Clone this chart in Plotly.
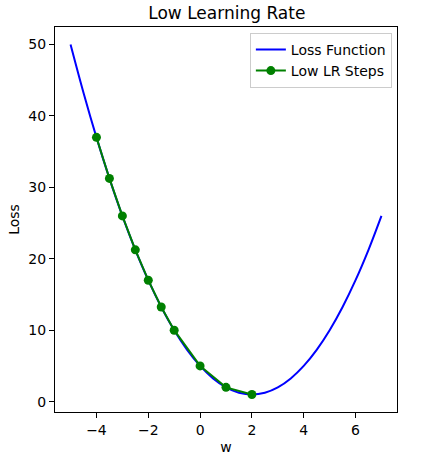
import plotly.graph_objects as go

# Loss function curve
w_curve = [-5, -4.5, -4, -3.5, -3, -2.5, -2, -1.5, -1, -0.5, 0, 0.5, 1, 1.5, 2,
           2.5, 3, 3.5, 4, 4.5, 5, 5.5, 6, 6.5, 7]
loss_curve = [50, 43.25, 37, 31.25, 26, 21.25, 17, 13.25, 10, 7.25, 5, 3.25, 2, 1.25, 1,
              1.25, 2, 3.25, 5, 7.25, 10, 13.25, 17, 21.25, 26]

# Low learning-rate steps
w_steps = [-4, -3.5, -3, -2.5, -2, -1.5, -1, 0, 1, 2]
loss_steps = [37, 31.25, 26, 21.25, 17, 13.25, 10, 5, 2, 1]

x_tickvals = [-4, -2, 0, 2, 4, 6]
x_ticktext = ["\u22124", "\u22122", "0", "2", "4", "6"]
y_tickvals = [0, 10, 20, 30, 40, 50]
y_ticktext = ["0", "10", "20", "30", "40", "50"]

FONT = "DejaVu Sans"

fig = go.Figure()
fig.add_trace(go.Scatter(x=w_curve, y=loss_curve, mode="lines", name="Loss Function",
                         line=dict(color="#0000ff", width=2, shape="spline")))
fig.add_trace(go.Scatter(x=w_steps, y=loss_steps, mode="lines+markers", name="Low LR Steps",
                         line=dict(color="#008000", width=2),
                         marker=dict(color="#008000", size=9)))

axis_common = dict(showgrid=False, zeroline=False, showline=True, linecolor="black",
                   linewidth=1, mirror=True, ticks="outside", ticklen=5, tickwidth=1,
                   tickcolor="black", tickfont=dict(family=FONT, size=14, color="black"))

fig.update_layout(
    width=424, height=471,
    margin=dict(l=55, r=27, t=27, b=59),
    paper_bgcolor="white", plot_bgcolor="white",
    font=dict(family=FONT, size=14, color="black"),
    title=dict(text="Low Learning Rate", x=0.535, xanchor="center", y=0.972, yanchor="middle",
               font=dict(family=FONT, size=17, color="black")),
    xaxis=dict(range=[-5.6, 7.6], tickvals=x_tickvals, ticktext=x_ticktext,
               title=dict(text="w", font=dict(family=FONT, size=14), standoff=5), **axis_common),
    yaxis=dict(range=[-1.45, 52.45], tickvals=y_tickvals, ticktext=y_ticktext,
               title=dict(text="Loss", font=dict(family=FONT, size=14), standoff=5), **axis_common),
    showlegend=True,
    legend=dict(x=0.985, xanchor="right", y=0.985, yanchor="top",
                bgcolor="rgba(255,255,255,0.8)", bordercolor="#cccccc", borderwidth=1,
                font=dict(family=FONT, size=14, color="black"), tracegroupgap=0,
                itemwidth=30),
)

fig.write_html("out.html")
